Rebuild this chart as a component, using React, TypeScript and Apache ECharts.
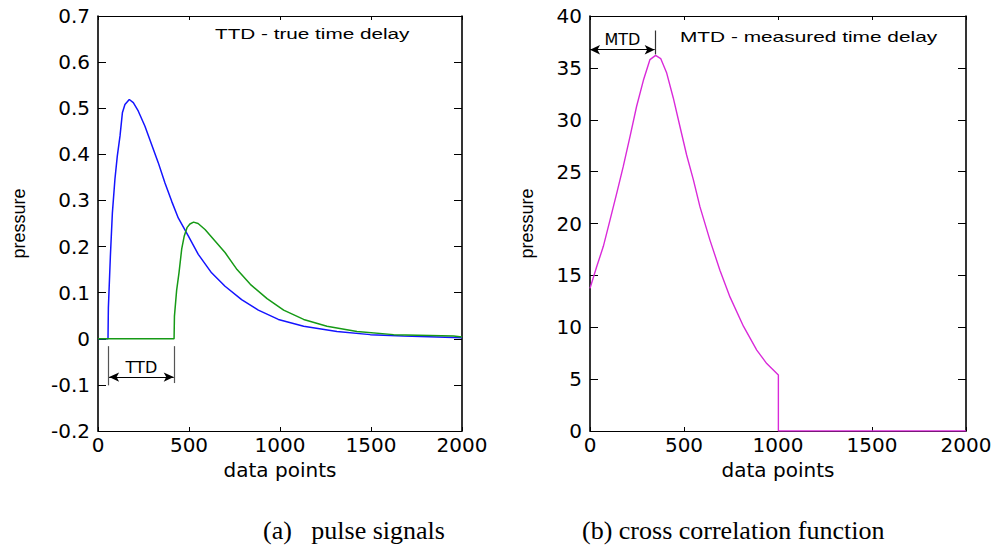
import React, { useEffect, useRef } from "react";
import * as echarts from "echarts";

// ---- data ----
const xTicks = [0, 500, 1000, 1500, 2000];
const leftYTicks = [-0.2, -0.1, 0, 0.1, 0.2, 0.3, 0.4, 0.5, 0.6, 0.7];
const rightYTicks = [0, 5, 10, 15, 20, 25, 30, 35, 40];

const blueX = [0, 55, 57, 68, 79, 93, 106, 121, 134, 148, 172, 194, 221, 258, 295, 331, 368, 405, 441, 496, 551, 624, 698, 789, 881, 991, 1130, 1313, 1496, 1679, 2000];
const blueY = [0, 0, 0.067, 0.179, 0.273, 0.346, 0.396, 0.44, 0.49, 0.508, 0.519, 0.512, 0.494, 0.461, 0.421, 0.382, 0.338, 0.298, 0.262, 0.223, 0.183, 0.143, 0.114, 0.085, 0.062, 0.042, 0.027, 0.016, 0.009, 0.006, 0.002];

const greenX = [0, 418, 420, 432, 445, 460, 474, 489, 505, 525, 550, 588, 643, 698, 764, 837, 929, 1020, 1130, 1258, 1423, 1624, 1954, 2000];
const greenY = [0, 0, 0.049, 0.105, 0.143, 0.195, 0.223, 0.241, 0.249, 0.253, 0.25, 0.237, 0.212, 0.187, 0.15, 0.118, 0.087, 0.062, 0.042, 0.027, 0.016, 0.009, 0.006, 0.004];

const magX = [0, 35, 71, 106, 142, 177, 213, 248, 284, 319, 349, 376, 408, 443, 479, 514, 550, 585, 638, 691, 745, 816, 887, 940, 1002, 1002, 2000];
const magY = [13.75, 15.8, 17.8, 20.3, 22.9, 25.5, 28.4, 31.3, 33.8, 35.8, 36.2, 35.9, 34.5, 32.1, 29.3, 26.6, 24.2, 21.6, 18.4, 15.5, 12.9, 10.1, 7.8, 6.5, 5.4, 0, 0];

// annotation values (data units)
const ttdStart = 55;
const ttdEnd = 418;
const ttdArrowY = -0.083;
const mtdPeak = 349;
const mtdArrowY = 36.75;

const zip = (xs: number[], ys: number[]) => xs.map((x, i) => [x, ys[i]]);

const tickFont = { fontFamily: "DejaVu Sans", fontSize: 20, color: "#000" };
const plainNum = (v: number) => String(+v.toFixed(6));

function xAxisPair(gridIndex: number) {
  const base = {
    gridIndex,
    type: "value" as const,
    min: xTicks[0],
    max: xTicks[xTicks.length - 1],
    interval: xTicks[1] - xTicks[0],
    splitLine: { show: false },
    axisLine: { show: true, onZero: false, lineStyle: { color: "#000", width: 1 } },
    axisTick: { show: true, inside: true, length: 4, lineStyle: { color: "#000" } },
  };
  return [
    {
      ...base,
      position: "bottom",
      axisLabel: { ...tickFont, margin: 4, formatter: plainNum },
      name: "data points",
      nameLocation: "middle",
      nameGap: 28,
      nameTextStyle: { fontFamily: "DejaVu Sans", fontSize: 20, color: "#000" },
    },
    { ...base, position: "top", axisLabel: { show: false } },
  ];
}

function yAxisPair(gridIndex: number, ticks: number[], nameGap: number) {
  const base = {
    gridIndex,
    type: "value" as const,
    min: ticks[0],
    max: ticks[ticks.length - 1],
    interval: +(ticks[1] - ticks[0]).toFixed(6),
    splitLine: { show: false },
    axisLine: { show: true, onZero: false, lineStyle: { color: "#000", width: 1.6 } },
    axisTick: { show: true, inside: true, length: 8, lineStyle: { color: "#000" } },
  };
  return [
    {
      ...base,
      position: "left",
      axisLabel: { ...tickFont, margin: 8, formatter: plainNum },
      name: "pressure",
      nameLocation: "middle",
      nameGap,
      nameTextStyle: { fontFamily: "Liberation Sans", fontSize: 18, color: "#000" },
    },
    { ...base, position: "right", axisLabel: { show: false } },
  ];
}

export default function App() {
  const ref = useRef<HTMLDivElement>(null);

  useEffect(() => {
    if (!ref.current) return;
    const chart = echarts.init(ref.current, null, { renderer: "svg" });
    const xa = [...xAxisPair(0), ...xAxisPair(1)];
    const ya = [...yAxisPair(0, leftYTicks, 70), ...yAxisPair(1, rightYTicks, 54)];

    const grayLine = { color: "#555", width: 1.2, type: "solid" };
    const blackLine = { color: "#000", width: 1, type: "solid" };
    const annLabel = {
      show: true,
      position: "insideMiddleTop",
      distance: 2,
      fontFamily: "DejaVu Sans",
      fontSize: 16,
      color: "#000",
    };

    chart.setOption({
      animation: false,
      backgroundColor: "#fff",
      grid: [
        { left: 98, top: 16, width: 364, height: 415, outerBoundsMode: "none" },
        { left: 590, top: 16, width: 376, height: 415, outerBoundsMode: "none" },
      ],
      xAxis: xa,
      yAxis: ya,
      series: [
        {
          type: "line",
          xAxisIndex: 0,
          yAxisIndex: 0,
          data: zip(blueX, blueY),
          showSymbol: false,
          lineStyle: { color: "#1414ff", width: 1.5 },
          itemStyle: { color: "#1414ff" },
          silent: true,
          markLine: {
            silent: true,
            symbol: ["none", "none"],
            animation: false,
            label: { show: false },
            data: [
              [
                { coord: [ttdStart, -0.016], lineStyle: grayLine },
                { coord: [ttdStart, -0.101] },
              ],
              [
                { coord: [ttdEnd, -0.016], lineStyle: grayLine },
                { coord: [ttdEnd, -0.096] },
              ],
              [
                {
                  coord: [ttdStart + 6, ttdArrowY],
                  symbol: "arrow",
                  symbolSize: [7, 10],
                  lineStyle: blackLine,
                  label: { ...annLabel, formatter: "TTD" },
                },
                { coord: [ttdEnd - 2, ttdArrowY], symbol: "arrow", symbolSize: [7, 10] },
              ],
            ],
          },
        },
        {
          type: "line",
          xAxisIndex: 0,
          yAxisIndex: 0,
          data: zip(greenX, greenY),
          showSymbol: false,
          lineStyle: { color: "#169a16", width: 1.5 },
          itemStyle: { color: "#169a16" },
          silent: true,
        },
        {
          type: "line",
          xAxisIndex: 2,
          yAxisIndex: 2,
          data: zip(magX, magY),
          showSymbol: false,
          lineStyle: { color: "#d92ad9", width: 1.4 },
          itemStyle: { color: "#d92ad9" },
          silent: true,
          markLine: {
            silent: true,
            symbol: ["none", "none"],
            animation: false,
            label: { show: false },
            data: [
              [
                { coord: [mtdPeak, 38.6], lineStyle: { color: "#333", width: 1.2, type: "solid" } },
                { coord: [mtdPeak, 36.3] },
              ],
              [
                {
                  coord: [0, mtdArrowY],
                  symbol: "arrow",
                  symbolSize: [7, 10],
                  lineStyle: blackLine,
                  label: { ...annLabel, formatter: "MTD" },
                },
                { coord: [mtdPeak - 5, mtdArrowY], symbol: "arrow", symbolSize: [7, 10] },
              ],
            ],
          },
        },
      ],
      graphic: [
        {
          type: "text",
          x: 215,
          y: 34,
          scaleX: 1.48,
          silent: true,
          style: {
            text: "TTD - true time delay",
            font: '14px "Liberation Sans", Arial, sans-serif',
            fill: "#000",
            textAlign: "left",
            textVerticalAlign: "middle",
          },
        },
        {
          type: "text",
          x: 680,
          y: 37,
          scaleX: 1.49,
          silent: true,
          style: {
            text: "MTD - measured time delay",
            font: '14px "Liberation Sans", Arial, sans-serif',
            fill: "#000",
            textAlign: "left",
            textVerticalAlign: "middle",
          },
        },
        {
          type: "text",
          x: 263,
          y: 530,
          silent: true,
          style: {
            text: "(a)\u00a0\u00a0\u00a0pulse signals",
            font: '26px "Liberation Serif", "Times New Roman", serif',
            fill: "#000",
            textAlign: "left",
            textVerticalAlign: "middle",
          },
        },
        {
          type: "text",
          x: 582,
          y: 530,
          silent: true,
          style: {
            text: "(b) cross correlation function",
            font: '26px "Liberation Serif", "Times New Roman", serif',
            fill: "#000",
            textAlign: "left",
            textVerticalAlign: "middle",
          },
        },
      ],
    });
    return () => chart.dispose();
  }, []);

  return (
    <div
      ref={ref}
      style={{ position: "fixed", left: 0, top: 0, width: 994, height: 546, background: "#fff" }}
    />
  );
}
